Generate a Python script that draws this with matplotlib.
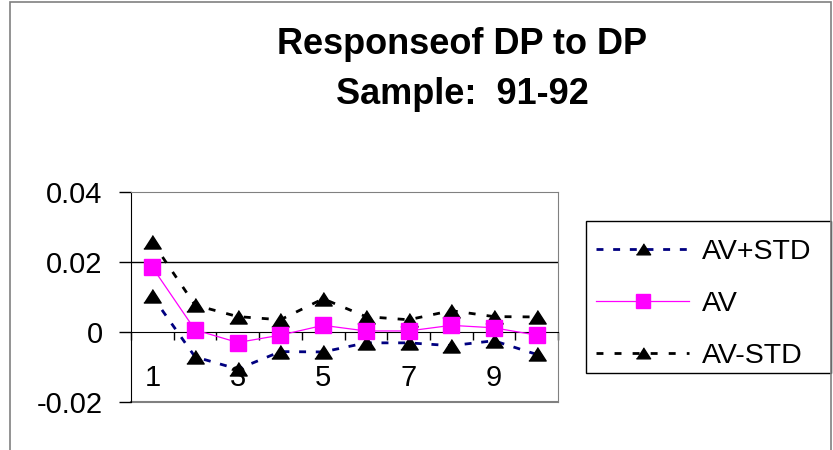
import matplotlib
matplotlib.use("Agg")
import matplotlib.pyplot as plt
from matplotlib.patches import Rectangle
import numpy as np

# impulse response values per step
steps = [1, 2, 3, 4, 5, 6, 7, 8, 9, 10]
av = [0.0185, 0.0006, -0.0030, -0.0009, 0.0019, 0.0003, 0.0003, 0.0019, 0.0012, -0.0009]
av_plus_std = [0.0102, -0.0071, -0.0106, -0.0056, -0.0057, -0.0031, -0.0031, -0.0039, -0.0025, -0.0064]
av_minus_std = [0.0257, 0.0077, 0.0044, 0.0035, 0.0095, 0.0044, 0.0035, 0.0061, 0.0044, 0.0043]
x_labels = ['1', '3', '5', '7', '9']

plt.rcParams['font.family'] = ['Liberation Sans', 'DejaVu Sans']

fig = plt.figure(figsize=(8.33, 4.5), dpi=100)
ax = fig.add_axes([131 / 833, 1 - 402 / 450, 427 / 833, 210 / 450])

# wide excel-style triangle
tri = [(-1, -0.75), (1, -0.75), (0, 0.8)]

x = np.array(steps)
ax.plot(x, av_plus_std, color='#000080', lw=2, ls=(0, (2.5, 3.5)),
        marker=tri, ms=12.5, mfc='black', mec='black', label='AV+STD', zorder=3)
ax.plot(x, av, color='#FF00FF', lw=0.9, marker='s', ms=11.5,
        mfc='#FF00FF', mec='#FF00FF', label='AV', zorder=4)
ax.plot(x, av_minus_std, color='black', lw=2, ls=(0, (2.5, 4)),
        marker=tri, ms=12.5, mfc='black', mec='black', label='AV-STD', zorder=3)

ax.set_xlim(0.5, 10.5)
ax.set_ylim(-0.02, 0.04)
ax.set_yticks([-0.02, 0, 0.02, 0.04])
ax.set_yticklabels(['-0.02', '0', '0.02', '0.04'], fontsize=21)
ax.tick_params(axis='y', direction='out', length=8.5, width=1, pad=12)

# category axis crosses at zero
ax.spines['bottom'].set_position(('data', 0))
ax.spines['bottom'].set_color('black')
ax.set_xticks(np.arange(0.5, 11, 1))
ax.set_xticklabels([])
ax.tick_params(axis='x', which='major', direction='out', length=6, width=1)
ax.set_xticks([1, 3, 5, 7, 9], minor=True)
ax.set_xticklabels(x_labels, minor=True, fontsize=21)
ax.tick_params(axis='x', which='minor', length=0, pad=23)

for s in ['top', 'right']:
    ax.spines[s].set_color('#808080')
ax.spines['left'].set_color('black')
ax.axhline(0.02, color='black', lw=1, zorder=1)
ax.axhline(-0.02, color='#808080', lw=1.5, zorder=1, clip_on=False)

# legend entries, with the box drawn separately
leg = fig.legend(loc='upper left', bbox_to_anchor=(586 / 833, 1 - 229 / 450),
                 borderaxespad=0, fontsize=20.5, frameon=False,
                 handlelength=3.27, handletextpad=0.45,
                 labelspacing=0.92, borderpad=0.35, markerscale=0.82)
fig.patches.append(Rectangle((586 / 833, 1 - 373 / 450), 245 / 833, 152 / 450,
                             transform=fig.transFigure, fill=False,
                             edgecolor='black', lw=1))

tfont = dict(family='Liberation Sans', size=26, weight='bold')
fig.text(462 / 833, 1 - 45 / 450, 'Responseof DP to DP', ha='center', va='center', **tfont)
fig.text(462 / 833, 1 - 95 / 450, 'Sample:  91-92', ha='center', va='center', **tfont)

fig.patches.append(Rectangle((10 / 833, -0.1), 821 / 833, 1.1 - 2 / 450,
                             transform=fig.transFigure, fill=False,
                             edgecolor='#808080', lw=1.2))

fig.savefig('out.png', dpi=100)
